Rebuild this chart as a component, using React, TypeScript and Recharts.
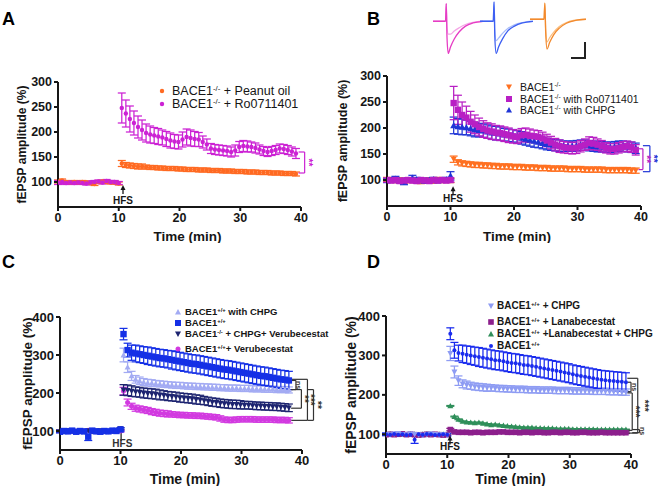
import React from 'react';
import { ComposedChart, LineChart, Line, XAxis, YAxis, ErrorBar, ReferenceLine, ReferenceDot } from 'recharts';

const FONT = '"Liberation Sans", Arial, Helvetica, sans-serif';
const INK = '#161616';

// sampling times (min)
const baseTime = [0, 0.67, 1.33, 2, 2.67, 3.33, 4, 4.67, 5.33, 6, 6.67, 7.33, 8, 8.67, 9.33, 10];
const postTime = [10.5, 11.17, 11.83, 12.5, 13.17, 13.83, 14.5, 15.17, 15.83, 16.5, 17.17, 17.83, 18.5, 19.17, 19.83, 20.5, 21.17, 21.83, 22.5, 23.17, 23.83, 24.5, 25.17, 25.83, 26.5, 27.17, 27.83, 28.5, 29.17, 29.83, 30.5, 31.17, 31.83, 32.5, 33.17, 33.83, 34.5, 35.17, 35.83, 36.5, 37.17, 37.83, 38.5, 39.17];
const timesFull = [...baseTime, ...postTime];
const timesC = [...baseTime, ...postTime.slice(0, 42)];

const xTicks = [0, 10, 20, 30, 40];
const yTicksAB = [100, 150, 200, 250, 300];
const yTicksCD = [100, 200, 300, 400];

// ---- panel A ----
const aOil = [101, 103, 100, 99, 100, 99, 100, 99, 98, 96, 100, 101, 100, 99, 99, 97,
  137, 134, 133, 132, 131, 131, 130, 129, 129, 128, 128, 127, 127, 127, 126, 126, 125, 125, 125, 124,
  124, 124, 123, 123, 123, 122, 122, 122, 121, 121, 121, 120, 120, 120, 119, 119, 119, 118, 118, 118,
  117, 117, 117, 116];
const aOilErr = [3, 3, 3, 3, 3, 3, 3, 3, 3, 3, 3, 3, 3, 3, 3, 3,
  6, 5, 5, 5, 5, 5, 4, 4, 4, 4, 4, 4, 4, 4, 4, 4, 4, 4, 4, 4,
  4, 4, 4, 4, 4, 4, 4, 4, 4, 4, 4, 4, 4, 4, 4, 4, 4, 4, 4, 4,
  4, 4, 4, 4];
const aRo = [99, 100, 98, 99, 98, 99, 98, 97, 99, 100, 101, 99, 102, 100, 100, 98,
  248, 237, 226, 218, 210, 204, 198, 195, 193, 191, 189, 186, 183, 181, 180, 185, 190, 188, 186, 185,
  180, 175, 167, 165, 164, 163, 162, 160, 163, 170, 172, 171, 170, 168, 165, 162, 160, 162, 164, 167,
  166, 164, 161, 157];
const aRoErr = [4, 3, 3, 3, 3, 3, 3, 3, 3, 3, 3, 3, 3, 3, 3, 3,
  30, 27, 26, 24, 22, 20, 18, 17, 16, 16, 15, 15, 15, 14, 14, 15, 16, 16, 15, 14,
  12, 11, 10, 10, 10, 10, 10, 10, 11, 11, 11, 11, 10, 10, 9, 9, 9, 9, 9, 9,
  9, 9, 9, 10];

// ---- panel B ----
const bKo = [101, 100, 99, 100, 98, 99, 100, 99, 97, 99, 100, 98, 101, 99, 100, 99,
  140, 134, 132, 131, 130, 129, 129, 128, 128, 127, 127, 126, 126, 126, 125, 125, 125, 124, 124, 124,
  123, 123, 123, 122, 122, 122, 122, 121, 121, 121, 121, 120, 120, 120, 120, 120, 119, 119, 119, 119,
  119, 119, 118, 118];
const bKoErr = [4, 4, 4, 4, 4, 4, 4, 4, 4, 4, 4, 4, 4, 4, 4, 4,
  6, 5, 5, 5, 5, 5, 5, 5, 5, 5, 5, 5, 5, 5, 5, 5, 5, 5, 5, 5,
  5, 5, 5, 5, 5, 5, 5, 5, 5, 5, 5, 5, 5, 5, 5, 5, 5, 5, 5, 5,
  5, 5, 5, 5];
const bRo = [100, 99, 100, 98, 99, 100, 99, 98, 100, 99, 98, 100, 99, 100, 99, 100,
  248, 235, 225, 220, 212, 207, 202, 198, 195, 193, 191, 190, 188, 186, 184, 183, 186, 187, 185, 184,
  183, 180, 176, 172, 168, 165, 163, 162, 161, 162, 165, 168, 171, 170, 168, 165, 162, 160, 160, 162,
  164, 165, 163, 158];
const bRoErr = [4, 4, 4, 4, 4, 4, 4, 4, 4, 4, 4, 4, 4, 4, 4, 4,
  32, 28, 25, 22, 20, 18, 17, 16, 15, 15, 14, 14, 14, 14, 13, 13, 13, 13, 13, 12,
  12, 12, 12, 12, 12, 12, 11, 11, 11, 11, 11, 11, 12, 12, 11, 11, 10, 10, 10, 10,
  10, 10, 10, 10];
const bChpg = [99, 100, 102, 99, 97, 100, 104, 101, 99, 98, 100, 101, 99, 100, 101, 108,
  205, 203, 202, 201, 199, 197, 196, 195, 193, 191, 190, 189, 187, 186, 185, 183, 181, 179, 177, 175,
  173, 171, 169, 168, 167, 166, 165, 165, 165, 166, 167, 167, 166, 165, 164, 164, 163, 163, 164, 165,
  165, 164, 163, 161];
const bChpgErr = [4, 4, 5, 4, 6, 4, 5, 4, 4, 4, 4, 4, 4, 4, 4, 8,
  16, 15, 15, 14, 14, 14, 13, 13, 13, 13, 13, 13, 12, 12, 12, 12, 12, 12, 12, 12,
  11, 11, 11, 11, 11, 11, 10, 10, 10, 10, 10, 10, 10, 10, 10, 10, 10, 10, 10, 10,
  10, 10, 10, 10];

// ---- panel C ----
const cChpg = [99, 100, 101, 99, 100, 98, 100, 99, 101, 100, 99, 100, 101, 99, 100, 102,
  300, 268, 245, 236, 232, 229, 227, 226, 225, 224, 223, 222, 221, 220, 220, 219, 218, 218, 217, 217,
  216, 216, 215, 215, 214, 214, 213, 213, 213, 212, 212, 212, 211, 211, 211, 210, 210, 210, 209, 209,
  209, 208];
const cChpgErr = [3, 3, 3, 3, 3, 3, 3, 3, 3, 3, 3, 3, 3, 3, 3, 3,
  18, 14, 12, 10, 10, 9, 9, 9, 8, 8, 8, 8, 8, 8, 8, 8, 8, 8, 8, 8,
  8, 8, 8, 8, 8, 8, 8, 8, 8, 8, 8, 8, 8, 8, 8, 8, 8, 8, 8, 8,
  8, 8];
const cWt = [98, 100, 99, 101, 98, 100, 99, 85, 101, 99, 98, 100, 99, 101, 100, 104,
  355, 313, 306, 304, 302, 300, 298, 296, 294, 292, 291, 289, 287, 285, 283, 281, 279, 277, 276, 274,
  272, 270, 268, 266, 264, 262, 261, 259, 257, 255, 253, 251, 249, 247, 245, 244, 242, 240, 238, 236,
  235, 233];
const cWtErr = [3, 3, 3, 3, 3, 3, 3, 10, 3, 3, 3, 3, 3, 3, 3, 4,
  15, 18, 20, 22, 22, 22, 23, 23, 23, 23, 23, 23, 24, 24, 24, 24, 24, 24, 24, 24,
  24, 24, 24, 24, 24, 24, 24, 24, 24, 24, 24, 24, 24, 24, 24, 24, 24, 24, 24, 24,
  24, 24];
const cVeruChpg = [100, 99, 101, 100, 99, 100, 98, 101, 99, 100, 101, 100, 99, 100, 101, 106,
  208, 207, 205, 203, 202, 200, 199, 198, 197, 195, 194, 192, 191, 190, 188, 187, 186, 185, 183, 182,
  180, 178, 176, 175, 173, 172, 171, 170, 170, 169, 168, 168, 167, 166, 166, 165, 165, 164, 164, 163,
  162, 161];
const cVeruChpgErr = [3, 3, 3, 3, 3, 3, 3, 3, 3, 3, 3, 3, 3, 3, 3, 3,
  14, 14, 14, 13, 13, 13, 13, 13, 13, 13, 12, 12, 12, 12, 12, 12, 12, 12, 12, 12,
  11, 11, 11, 11, 11, 11, 11, 11, 11, 11, 10, 10, 10, 10, 10, 10, 10, 10, 10, 10,
  10, 10];
const cVeru = [99, 100, 98, 100, 99, 101, 99, 102, 100, 98, 99, 100, 99, 101, 100, 100,
  205, 175, 165, 160, 158, 156, 154, 151, 149, 147, 146, 145, 144, 143, 142, 142, 141, 141, 140, 140,
  139, 138, 137, 136, 133, 130, 129, 129, 130, 131, 131, 131, 131, 130, 130, 130, 130, 130, 129, 129,
  129, 128];
const cVeruErr = [3, 3, 3, 3, 3, 3, 3, 3, 3, 3, 3, 3, 3, 3, 3, 3,
  10, 9, 8, 8, 8, 8, 8, 8, 8, 8, 8, 8, 7, 7, 7, 7, 7, 7, 7, 7,
  7, 7, 7, 7, 7, 7, 7, 7, 7, 7, 7, 7, 7, 7, 7, 7, 7, 7, 7, 7,
  7, 7];

// ---- panel D ----
const dChpg = [100, 99, 101, 102, 100, 99, 101, 100, 99, 98, 100, 101, 100, 99, 100, 98,
  305, 258, 236, 228, 225, 223, 221, 220, 219, 218, 218, 217, 216, 216, 215, 215, 214, 214, 214, 213,
  213, 213, 212, 212, 212, 212, 211, 211, 211, 211, 210, 210, 210, 210, 210, 209, 209, 209, 209, 208,
  208, 208, 207, 207];
const dChpgErr = [4, 4, 4, 4, 4, 4, 4, 4, 4, 4, 4, 4, 4, 4, 4, 4,
  18, 15, 12, 10, 10, 9, 9, 9, 9, 9, 8, 8, 8, 8, 8, 8, 8, 8, 8, 8,
  8, 8, 8, 8, 8, 8, 8, 8, 8, 8, 8, 8, 8, 8, 8, 8, 8, 8, 8, 8,
  8, 8, 8, 8];
const dLana = [99, 100, 99, 100, 101, 99, 100, 99, 98, 99, 100, 99, 100, 99, 98, 99,
  112, 106, 105, 105, 105, 104, 105, 105, 104, 105, 105, 105, 106, 106, 105, 105, 105, 104, 105, 105,
  104, 105, 105, 104, 104, 105, 105, 104, 105, 105, 104, 104, 105, 105, 104, 104, 104, 105, 104, 104,
  104, 104, 104, 104];
const dLanaErr = [2, 2, 2, 2, 2, 2, 2, 2, 2, 2, 2, 2, 2, 2, 2, 2,
  3, 2, 2, 2, 2, 2, 2, 2, 2, 2, 2, 2, 2, 2, 2, 2, 2, 2, 2, 2,
  2, 2, 2, 2, 2, 2, 2, 2, 2, 2, 2, 2, 2, 2, 2, 2, 2, 2, 2, 2,
  2, 2, 2, 2];
const dLanaChpg = [100, 101, 99, 100, 100, 99, 101, 100, 99, 100, 101, 100, 99, 100, 100, 101,
  172, 145, 138, 133, 131, 130, 129, 130, 128, 126, 124, 125, 123, 122, 121, 120, 119, 118, 117, 117,
  117, 116, 116, 115, 115, 115, 114, 114, 114, 114, 113, 113, 113, 113, 113, 113, 112, 112, 112, 112,
  112, 112, 112, 112];
const dLanaChpgErr = [1, 1, 1, 1, 1, 1, 1, 1, 1, 1, 1, 1, 1, 1, 1, 1,
  1, 1, 1, 1, 1, 1, 1, 1, 1, 1, 1, 1, 1, 1, 1, 1, 1, 1, 1, 1,
  1, 1, 1, 1, 1, 1, 1, 1, 1, 1, 1, 1, 1, 1, 1, 1, 1, 1, 1, 1,
  1, 1, 1, 1];
const dWt = [100, 99, 101, 99, 100, 98, 99, 86, 100, 99, 101, 100, 98, 99, 100, 99,
  355, 313, 306, 304, 302, 300, 298, 296, 294, 292, 290, 288, 287, 285, 283, 281, 280, 278, 276, 275,
  273, 271, 269, 267, 265, 263, 261, 259, 257, 255, 252, 250, 248, 246, 244, 242, 240, 238, 237, 236,
  235, 234, 233, 232];
const dWtErr = [3, 3, 3, 3, 3, 3, 3, 9, 3, 3, 3, 3, 3, 3, 3, 3,
  15, 20, 20, 22, 22, 23, 23, 24, 24, 24, 24, 24, 24, 24, 24, 24, 24, 24, 24, 24,
  24, 24, 24, 24, 24, 24, 24, 24, 24, 24, 24, 24, 24, 24, 24, 24, 24, 24, 24, 24,
  24, 24, 24, 24];

// ---- inset traces (panel B) ----
const traceTime = [0, 5, 5.3, 5.6, 6.1, 7, 8.5, 10.5, 13, 16, 20];
const pinkPost = [0, 0, 1.1, -1.0, -2.0, -1.6, -1.1, -0.65, -0.3, -0.1, 0];
const pinkPre = [0, 0, 1.1, -0.3, -0.8, -0.8, -0.6, -0.4, -0.2, -0.07, 0];
const bluePost = [0, 0, 1.2, -1.0, -2.0, -1.6, -1.1, -0.6, -0.3, -0.1, 0];
const bluePre = [0, 0, 1.2, -0.6, -1.2, -1.05, -0.75, -0.45, -0.22, -0.08, 0];
const orangePost = [0, 0, 1.0, -0.8, -1.85, -1.45, -0.95, -0.55, -0.25, -0.08, 0];
const orangePre = [0, 0, 1.0, -0.6, -1.4, -1.15, -0.8, -0.45, -0.2, -0.06, 0];

const rows = (times, vals, errs) => times.map((t, i) => ({ t, v: vals[i], e: errs[i] }));

function Marker({ kind, cx, cy, color, s }) {
  if (cx == null || cy == null) return <g />;
  if (kind === 'square') return <rect x={cx - s} y={cy - s} width={2 * s} height={2 * s} fill={color} />;
  if (kind === 'tri') return <polygon points={`${cx},${cy - s} ${cx - s},${cy + s * 0.8} ${cx + s},${cy + s * 0.8}`} fill={color} />;
  if (kind === 'triDown') return <polygon points={`${cx},${cy + s} ${cx - s},${cy - s * 0.8} ${cx + s},${cy - s * 0.8}`} fill={color} />;
  return <circle cx={cx} cy={cy} r={s} fill={color} />;
}

const seriesA = [
  { key: 'oil', times: timesFull, vals: aOil, errs: aOilErr, color: '#ff6a22', kind: 'circle', size: 2.2, label: ['BACE1', '-/-', ' + Peanut oil'] },
  { key: 'ro', times: timesFull, vals: aRo, errs: aRoErr, color: '#cc22d4', kind: 'circle', size: 2.2, label: ['BACE1', '-/-', ' + Ro0711401'] },
];
const seriesB = [
  { key: 'ko', times: timesFull, vals: bKo, errs: bKoErr, color: '#ff7020', kind: 'triDown', size: 3, label: ['BACE1', '-/-', ''] },
  { key: 'ro', times: timesFull, vals: bRo, errs: bRoErr, color: '#b81fc4', kind: 'square', size: 3.2, label: ['BACE1', '-/-', ' with Ro0711401'] },
  { key: 'chpg', times: timesFull, vals: bChpg, errs: bChpgErr, color: '#1f35d6', kind: 'tri', size: 3.5, label: ['BACE1', '-/-', ' with CHPG'] },
];
const seriesC = [
  { key: 'chpg', times: timesC, vals: cChpg, errs: cChpgErr, color: '#a3abf3', kind: 'tri', size: 3, label: ['BACE1', '+/+', ' with CHPG'] },
  { key: 'wt', times: timesC, vals: cWt, errs: cWtErr, color: '#1530e6', kind: 'square', size: 3.2, label: ['BACE1', '+/+', ''] },
  { key: 'vc', times: timesC, vals: cVeruChpg, errs: cVeruChpgErr, color: '#1d2470', kind: 'triDown', size: 3, label: ['BACE1', '-/-', ' + CHPG+ Verubecestat'] },
  { key: 'veru', times: timesC, vals: cVeru, errs: cVeruErr, color: '#d23ae0', kind: 'circle', size: 2.5, label: ['BACE1', '+/+', '+ Verubecestat'] },
];
const seriesD = [
  { key: 'chpg', times: timesFull, vals: dChpg, errs: dChpgErr, color: '#8e9cf3', kind: 'triDown', size: 3, label: ['BACE1', '+/+', ' + CHPG'] },
  { key: 'lana', times: timesFull, vals: dLana, errs: dLanaErr, color: '#8c1f8c', kind: 'square', size: 2.8, label: ['BACE1', '+/+', ' + Lanabecestat'] },
  { key: 'lc', times: timesFull, vals: dLanaChpg, errs: dLanaChpgErr, color: '#2f8f5a', kind: 'tri', size: 3, label: ['BACE1', '+/+', ' +Lanabecestat + CHPG'] },
  { key: 'wt', times: timesFull, vals: dWt, errs: dWtErr, color: '#1a2cee', kind: 'circle', size: 2, label: ['BACE1', '+/+', ''] },
];

function bracket(id, x0, x1, y1, y2, color, text, tx, fs = 10) {
  const seg = (a, b, k) => (
    <ReferenceLine key={id + k} segment={[a, b]} stroke={color} strokeWidth={1.2} ifOverflow="visible" />
  );
  return [
    seg({ x: x0, y: y1 }, { x: x1, y: y1 }, 'a'),
    seg({ x: x1, y: y1 }, { x: x1, y: y2 }, 'b'),
    seg({ x: x0, y: y2 }, { x: x1, y: y2 }, 'c'),
    <ReferenceDot key={id + 't'} x={tx} y={(y1 + y2) / 2} r={0} ifOverflow="visible"
      shape={(p) => (
        <text x={p.cx} y={p.cy} transform={`rotate(90 ${p.cx} ${p.cy})`} textAnchor="middle" dominantBaseline="central"
          fontSize={fs} fontWeight={700} fill={color} fontFamily={FONT}>{text}</text>
      )} />,
  ];
}

function hfsArrow(x, y, textDy, fs = 10) {
  return (
    <ReferenceDot key="hfs" x={x} y={y} r={0} ifOverflow="visible"
      shape={(p) => (
        <g>
          <polygon points={`${p.cx},${p.cy} ${p.cx - 2.5},${p.cy + 5} ${p.cx + 2.5},${p.cy + 5}`} fill={INK} />
          <line x1={p.cx} y1={p.cy + 4} x2={p.cx} y2={p.cy + 9} stroke={INK} strokeWidth={1.3} />
          <text x={p.cx} y={p.cy + textDy} textAnchor="middle" dominantBaseline="central" fontSize={fs} fontWeight={700} fill={INK} fontFamily={FONT}>HFS</text>
        </g>
      )} />
  );
}

function Panel({ left, top, series, yDomain, yTicks, margin, yWidth, xHeight, tickFont, titleFont, yLabelFont, yLabelOffset, titleDx, extras }) {
  return (
    <div style={{ position: 'absolute', left, top }}>
      <ComposedChart width={329} height={243} margin={margin}>
        <XAxis type="number" dataKey="t" domain={[0, 40]} ticks={xTicks} allowDataOverflow height={xHeight}
          axisLine={{ stroke: INK, strokeWidth: 2 }} tickLine={{ stroke: INK, strokeWidth: 2 }} tickSize={4}
          tick={{ fill: INK, fontSize: tickFont, fontWeight: 700, fontFamily: FONT }}
          label={{ value: 'Time (min)', position: 'insideBottom', offset: 2, dx: titleDx, style: { fill: INK, fontSize: titleFont, fontWeight: 700, fontFamily: FONT } }} />
        <YAxis type="number" domain={yDomain} ticks={yTicks} allowDataOverflow width={yWidth}
          axisLine={{ stroke: INK, strokeWidth: 2 }} tickLine={{ stroke: INK, strokeWidth: 2 }} tickSize={4}
          tick={{ fill: INK, fontSize: tickFont, fontWeight: 700, fontFamily: FONT }}
          label={{ value: 'fEPSP amplitude (%)', angle: -90, position: 'insideLeft', offset: yLabelOffset, style: { textAnchor: 'middle', fill: INK, fontSize: yLabelFont, fontWeight: 700, fontFamily: FONT } }} />
        {series.map((s) => (
          <Line key={s.key} data={rows(s.times, s.vals, s.errs)} dataKey="v" stroke="none" isAnimationActive={false}
            activeDot={false} legendType="none"
            dot={(p) => <Marker key={`${s.key}-${p.index}`} kind={s.kind} cx={p.cx} cy={p.cy} color={s.color} s={s.size} />}>
            <ErrorBar dataKey="e" width={4} stroke={s.color} strokeWidth={1.25} direction="y" />
          </Line>
        ))}
        {extras}
      </ComposedChart>
    </div>
  );
}

function KeyList({ series, left, textLeft, ys, fontSize, bold }) {
  return (
    <>
      {series.map((s, i) => (
        <div key={s.key} style={{ position: 'absolute', left, top: ys[i] - 6, height: 12, display: 'flex', alignItems: 'center', whiteSpace: 'nowrap', lineHeight: 1, fontSize, fontWeight: bold ? 700 : 400, color: INK }}>
          <svg width={10} height={10} style={{ marginRight: textLeft - left - 10, flex: 'none' }}>
            <Marker kind={s.kind} cx={5} cy={5} color={s.color} s={Math.min(s.size, 3)} />
          </svg>
          <span>
            {s.label[0]}
            <span style={{ fontSize: '0.62em', position: 'relative', top: '-0.55em' }}>{s.label[1]}</span>
            {s.label[2]}
          </span>
        </div>
      ))}
    </>
  );
}

function Trace({ left, top, width, post, pre, cPost, cPre }) {
  const data = traceTime.map((t, i) => ({ t, a: post[i], b: pre[i] }));
  return (
    <div style={{ position: 'absolute', left, top }}>
      <LineChart width={width} height={58} data={data} margin={{ top: 2, right: 0, bottom: 3, left: 0 }}>
        <XAxis type="number" dataKey="t" domain={[0, 20]} hide />
        <YAxis type="number" domain={[-2.1, 1.2]} hide />
        <Line type="monotone" dataKey="b" stroke={cPre} strokeWidth={1.3} dot={false} isAnimationActive={false} />
        <Line type="monotone" dataKey="a" stroke={cPost} strokeWidth={1.3} dot={false} isAnimationActive={false} />
      </LineChart>
    </div>
  );
}

const letter = { position: 'absolute', fontSize: 18, fontWeight: 700, lineHeight: 1, color: '#000' } as React.CSSProperties;

export default function App() {
  const extrasA = [
    hfsArrow(10.7, 94, 15),
    ...bracket('a1', 39.6, 40.6, 160, 118, '#cc22d4', '**', 41.3),
  ];
  const extrasB = [
    hfsArrow(10.4, 88, 12),
    ...bracket('b1', 39.6, 40.3, 160, 120, '#b81fc4', '**', 40.85),
    ...bracket('b2', 40.3, 41.4, 166, 116, '#1f35d6', '**', 41.95),
  ];
  const extrasC = [
    <ReferenceLine key="hfsl" segment={[{ x: 10.1, y: 112 }, { x: 10.1, y: 74 }]} stroke={INK} strokeWidth={1.2} ifOverflow="visible" />,
    <ReferenceDot key="hfst" x={10.3} y={66} r={0} ifOverflow="visible"
      shape={(p) => <text x={p.cx} y={p.cy} textAnchor="middle" dominantBaseline="central" fontSize={10} fontWeight={700} fill="#333" fontFamily={FONT}>HFS</text>} />,
    ...bracket('c1', 38.2, 39.0, 233, 209, '#333', 'ns', 39.5, 7),
    ...bracket('c2', 38.2, 39.9, 209, 160, '#333', '**', 40.4),
    ...bracket('c3', 38.2, 40.9, 236, 128, '#333', '***', 41.4),
    ...bracket('c4', 40.9, 41.9, 209, 128, '#333', '**', 42.6),
  ];
  const extrasD = [
    hfsArrow(10.45, 97, 11),
    ...bracket('d1', 39.4, 40.0, 232, 208, '#333', 'ns', 40.5, 7),
    ...bracket('d2', 39.4, 40.2, 205, 110, '#333', '***', 40.8),
    ...bracket('d3', 40.2, 41.4, 112, 104, '#333', 'ns', 41.9, 7),
    ...bracket('d4', 39.4, 41.1, 242, 103, '#333', '***', 42.2),
  ];

  return (
    <div style={{ position: 'absolute', left: 0, top: 0, width: 658, height: 486, background: '#fff', fontFamily: FONT, overflow: 'hidden' }}>
      <Panel left={0} top={0} series={seriesA} yDomain={[50, 300]} yTicks={yTicksAB}
        margin={{ top: 82, right: 28, bottom: 0, left: 0 }} yWidth={58} xHeight={36}
        tickFont={12.5} titleFont={13.5} yLabelFont={12} yLabelOffset={22} titleDx={8} extras={extrasA} />
      <Panel left={329} top={0} series={[seriesB[0], seriesB[2], seriesB[1]]} yDomain={[50, 300]} yTicks={yTicksAB}
        margin={{ top: 76, right: 17, bottom: 0, left: 0 }} yWidth={58} xHeight={37}
        tickFont={12.5} titleFont={13.5} yLabelFont={12.5} yLabelOffset={14} titleDx={3} extras={extrasB} />
      <Panel left={0} top={243} series={[seriesC[0], seriesC[3], seriesC[2], seriesC[1]]} yDomain={[50, 400]} yTicks={yTicksCD}
        margin={{ top: 74, right: 27, bottom: 0, left: 0 }} yWidth={60} xHeight={36}
        tickFont={13} titleFont={14} yLabelFont={13.5} yLabelOffset={27} titleDx={4} extras={extrasC} />
      <Panel left={329} top={243} series={[seriesD[2], seriesD[1], seriesD[0], seriesD[3]]} yDomain={[50, 400]} yTicks={yTicksCD}
        margin={{ top: 73, right: 27, bottom: 0, left: 0 }} yWidth={57} xHeight={32}
        tickFont={13} titleFont={14} yLabelFont={14} yLabelOffset={22} titleDx={2} extras={extrasD} />

      <KeyList series={seriesA} left={157} textLeft={172} ys={[91, 104]} fontSize={12.5} bold={false} />
      <KeyList series={seriesB} left={504} textLeft={520} ys={[87, 99, 110]} fontSize={10.5} bold={false} />
      <KeyList series={seriesC} left={173} textLeft={185} ys={[312, 323, 334, 349]} fontSize={9.5} bold />
      <KeyList series={seriesD} left={486} textLeft={497} ys={[306, 322, 334, 346]} fontSize={10} bold />

      <Trace left={433} top={0} width={50} post={pinkPost} pre={pinkPre} cPost="#e63cc4" cPre="#f4a6e6" />
      <Trace left={480} top={0} width={53} post={bluePost} pre={bluePre} cPost="#3d5ff2" cPre="#a8bcfa" />
      <Trace left={530} top={-2} width={56} post={orangePost} pre={orangePre} cPost="#f28a2e" cPre="#fbbf80" />
      <div style={{ position: 'absolute', left: 571, top: 42, width: 13, height: 15, borderRight: '2px solid #222', borderBottom: '2px solid #222' }} />

      <div style={{ ...letter, left: 2, top: 10 }}>A</div>
      <div style={{ ...letter, left: 367, top: 10 }}>B</div>
      <div style={{ ...letter, left: 2, top: 253 }}>C</div>
      <div style={{ ...letter, left: 367, top: 253 }}>D</div>
    </div>
  );
}
